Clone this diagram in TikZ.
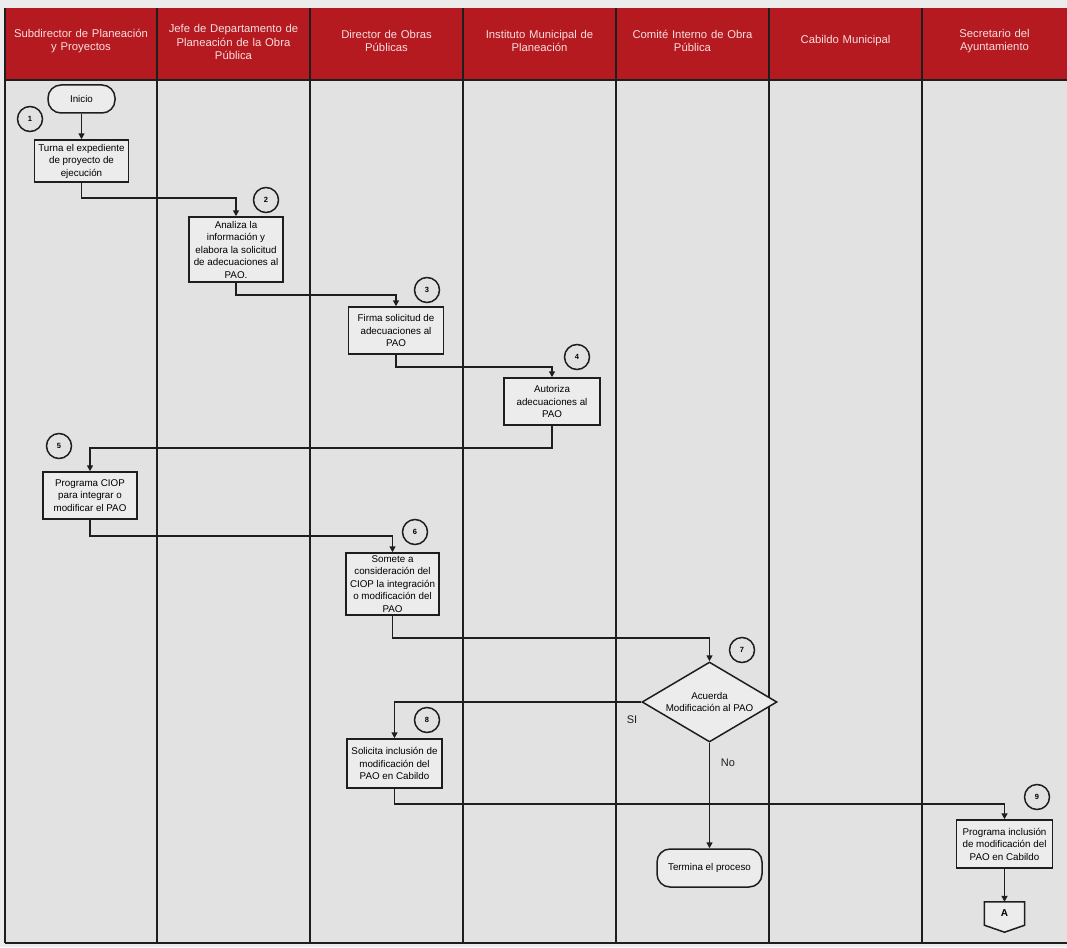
\documentclass[tikz,border=0pt]{standalone}
\usepackage{fontspec}
\setmainfont{Liberation Sans}
\usetikzlibrary{shapes.geometric,arrows.meta,calc}
\definecolor{hdr}{RGB}{180,26,32}
\definecolor{bodybg}{RGB}{226,226,226}
\definecolor{pagebg}{RGB}{236,236,236}
\definecolor{boxfill}{RGB}{236,236,236}
\definecolor{ink}{RGB}{30,30,30}
\definecolor{hdrtext}{RGB}{250,222,222}
\begin{document}
\begin{tikzpicture}[x=1pt,y=-1pt,
  lane/.style={draw=ink, line width=1.1pt},
  hdrtxt/.style={text=hdrtext, font=\fontsize{11.3}{13.5}\selectfont, align=center, text width=150pt, inner sep=0pt},
  proc/.style={draw=ink, line width=1.5pt, fill=boxfill, align=center, font=\fontsize{9.8}{12.5}\selectfont, inner sep=0pt},
  term/.style={draw=ink, line width=1.5pt, fill=boxfill, rounded corners=13pt, align=center, font=\fontsize{9.8}{12}\selectfont, inner sep=0pt},
  num/.style={circle, draw=ink, line width=1.5pt, minimum size=25pt, inner sep=0pt, font=\fontsize{7.5}{8}\selectfont\bfseries},
  dec/.style={diamond, aspect=1.7, draw=ink, line width=1.5pt, fill=boxfill, align=center, font=\fontsize{9.8}{12}\selectfont, inner sep=0pt, minimum width=135pt, minimum height=80pt},
  flow/.style={draw=ink, line width=1.7pt, -{Triangle[length=6pt,width=6pt]}},
  lbl/.style={font=\fontsize{11}{12}\selectfont, text=ink, inner sep=0pt},
]
\useasboundingbox (0,0) rectangle (1067,947);
\fill[pagebg] (0,0) rectangle (1067,947);
% table
\fill[bodybg] (5,80) rectangle (1067,943);
\fill[hdr] (5,8) rectangle (1067,80);
\foreach \x in {5,157,310,463,616,769,922} {\draw[lane] (\x,8) -- (\x,943);}
\draw[lane] (5,80) -- (1067,80);
\draw[lane] (5,943) -- (1067,943);
% headers
\node[hdrtxt] (h1) at (81,41) {Subdirector de Planeación\\y Proyectos};
\node[hdrtxt] (h2) at (233.5,42) {Jefe de Departamento de\\Planeación de la Obra\\Pública};
\node[hdrtxt] (h3) at (386.5,41) {Director de Obras\\Públicas};
\node[hdrtxt] (h4) at (539.5,41) {Instituto Municipal de\\Planeación};
\node[hdrtxt] (h5) at (692.5,41) {Comité Interno de Obra\\Pública};
\node[hdrtxt] (h6) at (845.5,41) {Cabildo Municipal};
\node[hdrtxt] (h7) at (994.5,41) {Secretario del\\Ayuntamiento};
% nodes
\node[term, minimum width=67pt, minimum height=28pt] (ini) at (81.5,99) {Inicio};
\node[proc, minimum width=94pt, minimum height=42pt] (b1) at (81.5,161) {Turna el expediente\\de proyecto de\\ejecución};
\node[proc, minimum width=94pt, minimum height=65pt] (b2) at (236,249.5) {Analiza la\\información y\\elabora la solicitud\\de adecuaciones al\\PAO.};
\node[proc, minimum width=95pt, minimum height=47pt] (b3) at (396,330.5) {Firma solicitud de\\adecuaciones al\\PAO};
\node[proc, minimum width=96pt, minimum height=47pt] (b4) at (552,401.5) {Autoriza\\adecuaciones al\\PAO};
\node[proc, minimum width=94pt, minimum height=47pt] (b5) at (90,495.5) {Programa CIOP\\para integrar o\\modificar el PAO};
\node[proc, minimum width=93pt, minimum height=62pt] (b6) at (392.5,584) {Somete a\\consideración del\\CIOP la integración\\o modificación del\\PAO};
\node[dec] (d7) at (709.5,702) {Acuerda\\Modificación al PAO};
\node[proc, minimum width=95pt, minimum height=49pt] (b8) at (394.5,763.5) {Solicita inclusión de\\modificación del\\PAO en Cabildo};
\node[term, minimum width=105pt, minimum height=38pt] (fin) at (709.5,868) {Termina el proceso};
\node[proc, minimum width=96pt, minimum height=48pt] (b9) at (1004.5,844) {Programa inclusión\\de modificación del\\PAO en Cabildo};
\node[inner sep=0pt, minimum width=40pt, minimum height=23pt] (A) at (1004.5,913.5) {};
\draw[draw=ink, line width=1.5pt, fill=boxfill] (A.north west) -- (A.north east) -- (A.south east) -- ($(A.south)+(0,7)$) -- (A.south west) -- cycle;
\node[inner sep=0pt, font=\fontsize{10}{10}\selectfont\bfseries] (Alabel) at (A) {A};
% numbers
\node[num] (c1) at (30,119) {1};
\node[num] (c2) at (266,200) {2};
\node[num] (c3) at (427,290) {3};
\node[num] (c4) at (577,357) {4};
\node[num] (c5) at (59,446) {5};
\node[num] (c6) at (415,532) {6};
\node[num] (c7) at (742,650) {7};
\node[num] (c8) at (427,720) {8};
\node[num] (c9) at (1037,797) {9};
% connectors
\draw[flow] (ini) -- (b1);
\draw[flow] (b1.south) -- ++(0,15) -| (b2.north);
\draw[flow] (b2.south) -- ++(0,12) -| (b3.north);
\draw[flow] (b3.south) -- ++(0,12) -| (b4.north);
\draw[flow] (b4.south) -- ++(0,22) -| (b5.north);
\draw[flow] (b5.south) -- ++(0,16) -| (b6.north);
\draw[flow] (b6.south) -- ++(0,22) -| (d7.north);
\draw[flow] (d7.west) -| (b8.north);
\draw[flow] (d7.south) -- (fin.north);
\draw[flow] (b8.south) -- ++(0,15) -| (b9.north);
\draw[flow] (b9.south) -- (A.north);
\node[lbl] (si) at (632,720) {SI};
\node[lbl] (no) at (728,763) {No};
\end{tikzpicture}
\end{document}
